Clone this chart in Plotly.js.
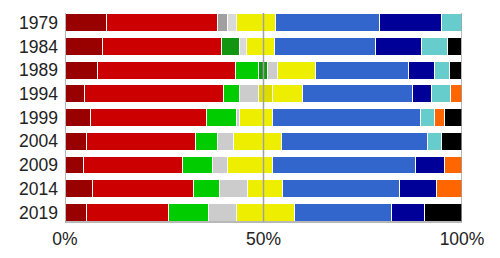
<!DOCTYPE html>
<html>
<head>
<meta charset="utf-8">
<script src="https://cdn.plot.ly/plotly-3.0.1.min.js"></script>
<style>html,body{margin:0;padding:0;background:#fff;}#chart{width:500px;height:258px;}</style>
</head>
<body>
<div id="chart"></div>
<script>
const years = ['1979','1984','1989','1994','1999','2004','2009','2014','2019'];
const tickValues = [0, 50, 100];
const tickLabels = ['0%', '50%', '100%'];

const darkred   = [10.56, 9.33, 8.07, 4.8, 6.5, 5.5, 4.6, 6.8, 5.5];
const red       = [27.73, 30.0, 34.8, 35.0, 29.1, 27.3, 25.1, 25.5, 20.6];
const green     = [null, null, 5.9, 4.1, 7.56, 5.7, 7.56, 6.6, 10.1];
const darkgreen = [null, 4.6, 2.35, null, null, null, null, null, null];
const gray      = [2.65, null, null, null, null, null, null, null, null];
const palegray  = [2.34, 1.7, null, null, null, null, null, null, null];
const lightgray = [null, null, 2.35, 4.9, 0.84, 4.0, 3.6, 7.0, 7.06];
const olive     = [null, null, null, 3.45, null, null, null, null, null];
const yellow    = [9.72, 7.06, 9.66, 7.56, 8.15, 12.1, 11.5, 8.9, 14.45];
const blue      = [26.2, 25.5, 23.4, 27.7, 37.4, 36.7, 36.05, 29.5, 24.45];
const darkblue  = [15.6, 11.5, 6.55, 4.8, null, null, 7.3, 9.4, 8.3];
const cyan      = [5.2, 6.6, 3.8, 4.7, 3.5, 3.6, null, null, null];
const orange    = [null, null, null, 3.0, 2.5, null, 4.3, 6.3, null];
const black     = [null, 3.7, 3.1, null, 4.45, 5.1, null, null, 9.6];

const series = [
  [darkred, '#990000'], [red, '#cc0000'], [green, '#00cc00'], [darkgreen, '#129612'],
  [gray, '#a0a0a0'], [palegray, '#d9d9d9'], [lightgray, '#cccccc'], [olive, '#dcdc00'],
  [yellow, '#eeee00'], [blue, '#3366cc'], [darkblue, '#000099'], [cyan, '#66cccc'],
  [orange, '#ff6600'], [black, '#000000']
];

const traces = series.map(([vals, col]) => ({
  type: 'bar', orientation: 'h', y: years, x: vals,
  marker: {color: col, line: {color: '#ffffff', width: 1}},
  hoverinfo: 'skip', showlegend: false
}));

const lineCol = '#a0a0a0';
const shapes = [0, 50, 100].map(v => ({
  type: 'line', xref: 'x', yref: 'paper', x0: v, x1: v, y0: 0, y1: 1,
  line: {color: lineCol, width: 1.5}, layer: 'above'
}));
shapes.push({type: 'line', xref: 'x', yref: 'paper', x0: 0, x1: 100, y0: 0, y1: 0,
  line: {color: lineCol, width: 1.5}, layer: 'above'});

const layout = {
  width: 500, height: 258,
  margin: {l: 65, r: 38, t: 13, b: 36},
  barmode: 'stack', bargap: 0.25,
  paper_bgcolor: '#fff', plot_bgcolor: '#fff',
  font: {family: 'Liberation Sans, Arial, sans-serif', size: 17.5, color: '#222'},
  xaxis: {range: [0, 100], tickvals: tickValues, ticktext: tickLabels,
    showgrid: false, zeroline: false, showline: false, ticks: '', ticklabelstandoff: 4,
    fixedrange: true},
  yaxis: {type: 'category', range: [8.40, -0.408], showgrid: false, zeroline: false,
    showline: false, ticks: '', ticklabelstandoff: 6, fixedrange: true},
  shapes: shapes
};

Plotly.newPlot('chart', traces, layout, {staticPlot: true, displayModeBar: false});
</script>
</body>
</html>
